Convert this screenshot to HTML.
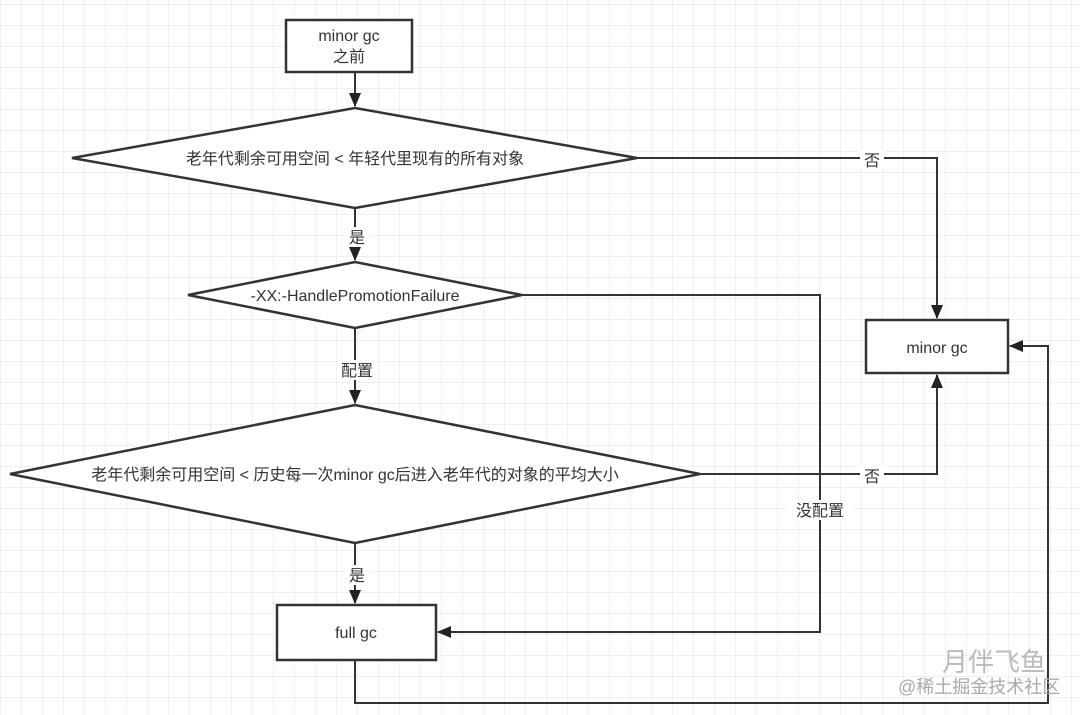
<!DOCTYPE html>
<html><head><meta charset="utf-8"><style>
html,body{margin:0;padding:0;background:#fff}
svg{display:block}
text{font-family:"Liberation Sans","Noto Sans CJK SC",sans-serif;font-size:16px;fill:#333}
</style></head><body>
<svg width="1080" height="715" xmlns="http://www.w3.org/2000/svg">
<defs>
<pattern id="g" width="21" height="21" patternUnits="userSpaceOnUse" x="1" y="5">
<path d="M21 0V21M0 21H21" fill="none" stroke="#e2e2e2" stroke-width="1"/>
</pattern>
<marker id="a" markerWidth="14" markerHeight="12" refX="13" refY="6" orient="auto" markerUnits="userSpaceOnUse">
<path d="M0,0 L14,6 L0,12 Z" fill="#222"/>
</marker>
</defs>
<rect width="1080" height="715" fill="#fff"/>
<rect width="1080" height="715" fill="url(#g)"/>
<g stroke="#333" stroke-width="2.5" fill="#fff">
<rect x="286" y="20" width="126" height="52"/>
<polygon points="72,158 355,108 637,158 355,208"/>
<polygon points="188,295 355,262 522,295 355,328"/>
<polygon points="10,474 355,405 700,474 355,543"/>
<rect x="866" y="320" width="142" height="53"/>
<rect x="277" y="605" width="159" height="55"/>
</g>
<g stroke="#333" stroke-width="2" fill="none">
<path d="M355 72V106" marker-end="url(#a)"/>
<path d="M355 208V260" marker-end="url(#a)"/>
<path d="M355 328V403" marker-end="url(#a)"/>
<path d="M355 543V603" marker-end="url(#a)"/>
<path d="M637 158H937V318" marker-end="url(#a)"/>
<path d="M700 474H937V375" marker-end="url(#a)"/>
<path d="M522 295H820V632H438" marker-end="url(#a)"/>
<path d="M355 660V703H1048V346H1010" marker-end="url(#a)"/>
</g>
<g text-anchor="middle">
<text x="349" y="41">minor gc</text>
<text x="349" y="62">之前</text>
<text x="355" y="164">老年代剩余可用空间 &lt; 年轻代里现有的所有对象</text>
<text x="355" y="301">-XX:-HandlePromotionFailure</text>
<text x="355" y="480">老年代剩余可用空间 &lt; 历史每一次minor gc后进入老年代的对象的平均大小</text>
<text x="937" y="353">minor gc</text>
<text x="356" y="638">full gc</text>
</g>
<g text-anchor="middle">
<rect x="860" y="150" width="24" height="20" fill="#fff"/><text x="872" y="166">否</text>
<rect x="860" y="466" width="24" height="20" fill="#fff"/><text x="872" y="482">否</text>
<rect x="345" y="227" width="24" height="20" fill="#fff"/><text x="357" y="243">是</text>
<rect x="337" y="360" width="40" height="20" fill="#fff"/><text x="357" y="376">配置</text>
<rect x="345" y="565" width="24" height="20" fill="#fff"/><text x="357" y="581">是</text>
<rect x="788" y="500" width="64" height="20" fill="#fff"/><text x="820" y="516">没配置</text>
</g>
<text x="942" y="671" style="font-size:26px;fill:#bbb">月伴飞鱼</text>
<text x="898" y="693" style="font-size:18px;fill:#aaa">@稀土掘金技术社区</text>
</svg>
</body></html>
